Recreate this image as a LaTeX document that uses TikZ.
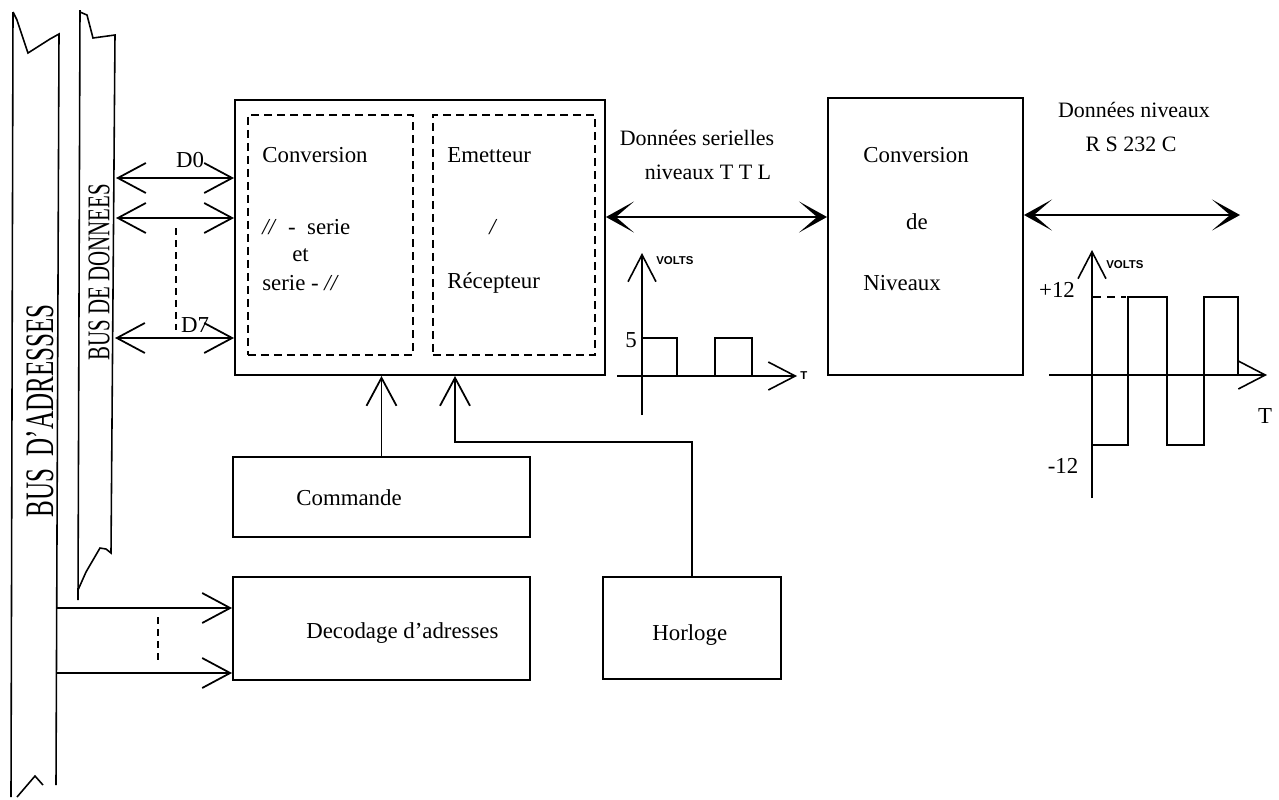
\documentclass[tikz,border=0pt]{standalone}
\usepackage{graphicx}
\usepackage{fontspec}
\setmainfont{Liberation Serif}
\newfontfamily\smallsans{Liberation Sans}
\usetikzlibrary{arrows.meta,fit}

\begin{document}
\begin{tikzpicture}[x=0.02cm, y=-0.02cm,
  box/.style={draw, line width=1.1pt, rectangle, inner sep=0pt},
  subbox/.style={draw, line width=0.8pt, dash pattern=on 0.16cm off 0.1cm, rectangle, inner sep=0pt},
  txt/.style={inner sep=0pt, font=\fontsize{13}{15}\selectfont},
  ltxt/.style={txt, anchor=west},
  tiny/.style={inner sep=0pt, font=\smallsans\bfseries\fontsize{6.5}{7}\selectfont},
  bus/.style={line width=0.9pt},
  wire/.style={line width=1pt},
  barbtip/.tip={Straight Barb[length=0.56cm, width=0.6cm, line width=1pt]},
  barb/.style={wire, -barbtip},
  dbarb/.style={wire, barbtip-barbtip},
  fattip/.tip={Stealth[length=0.56cm, width=0.62cm, inset=0.36cm]},
  fatarrow/.style={line width=1.6pt, fattip-fattip},
  axis/.style={line width=0.9pt, -{Straight Barb[length=0.54cm, width=0.56cm, line width=0.9pt]}},
  sig/.style={line width=1pt},
  dots/.style={line width=1pt, dash pattern=on 0.14cm off 0.1cm}
]
\fill[white] (0,0) rectangle (1279,799);
\useasboundingbox (0,0) rectangle (1279,799);

% ---- address bus ----
\draw[bus] (13,12) -- (11,797);
\draw[bus] (13,12) -- (17,20) -- (28,53) -- (50,39) -- (59,34) -- (56,785);
\draw[bus] (17,797) -- (35,776) -- (43,785);
\node[rotate=90, inner sep=0pt] (busA) at (40,411)
  {\scalebox{0.62}[1]{\fontsize{23}{23}\selectfont BUS~~D'ADRESSES}};

% ---- data bus ----
\draw[bus] (80,10) -- (78,600);
\draw[bus] (80,12) -- (87,15) -- (93,38) -- (115,35) -- (111,553)
  -- (106,549) -- (100,548) -- (86,572) -- (78,590);
\node[rotate=90, inner sep=0pt] (busD) at (99,272)
  {\scalebox{0.66}[1]{\fontsize{18}{18}\selectfont BUS DE DONNEES}};

% ---- blocks ----
\node[box, fit={(235,100) (605,375)}] (uart) {};
\node[subbox, fit={(248,115) (413,355)}] (conv) {};
\node[subbox, fit={(433,115) (595,355)}] (emrec) {};
\node[box, fit={(828,98) (1023,375)}] (niv) {};
\node[box, fit={(233,457) (530,537)}] (cmd) {};
\node[box, fit={(233,577) (530,680)}] (dec) {};
\node[box, fit={(603,577) (781,679)}] (clk) {};

% texts inside the blocks
\node[ltxt] (t1) at (262,155) {Conversion};
\node[ltxt] (t2) at (262,227) {\textit{//}\ \ -\ \ serie};
\node[ltxt] (t3) at (292,255) {et};
\node[ltxt] (t4) at (262,283) {serie\ -\ \textit{//}};
\node[ltxt] (t5) at (447,155) {Emetteur};
\node[ltxt] (t6) at (489,227) {\textit{/}};
\node[ltxt] (t7) at (447,283) {Récepteur};
\node[ltxt] (t8) at (863,155) {Conversion};
\node[txt] (t9) at (917,222) {de};
\node[ltxt] (t10) at (863,283) {Niveaux};
\node[ltxt] (t11) at (296,498) {Commande};
\node[ltxt] (t12) at (306,633) {Decodage d'adresses};
\node[ltxt] (t13) at (652,635) {Horloge};

% ---- data lines D0..D7 ----
\coordinate (d0) at (116,178);
\coordinate (d1) at (116,218);
\coordinate (d7) at (115,338);
\draw[dbarb] (d0) -- (uart.west |- d0);
\draw[dbarb] (d1) -- (uart.west |- d1);
\draw[dbarb] (d7) -- (uart.west |- d7);
\draw[dots] (176,228) -- (176,330);
\node[txt] (lD0) at (190,160) {D0};
\node[txt] (lD7) at (195,325) {D7};

% ---- address lines ----
\coordinate (a0) at (57,608);
\coordinate (a1) at (57,673);
\draw[barb] (a0) -- (dec.west |- a0);
\draw[barb] (a1) -- (dec.west |- a1);
\draw[dots] (158,617) -- (158,663);

% ---- control and clock ----
\draw[barb] (cmd.north) -- (cmd.north |- uart.south);
\coordinate (bend) at (455,442);
\draw[barb] (clk.north) |- (bend) -- (bend |- uart.south);

% ---- serial links ----
\coordinate (ttl) at (605,217);
\draw[fatarrow] (uart.east |- ttl) -- (niv.west |- ttl);
\node[txt, font=\fontsize{12.5}{14}\selectfont] (l1) at (697,138) {Données serielles};
\node[txt, font=\fontsize{12.5}{14}\selectfont] (l2) at (708,172) {niveaux T T L};

\coordinate (rsend) at (1240,215);
\draw[fatarrow] (niv.east |- rsend) -- (rsend);
\node[txt, font=\fontsize{12.5}{14}\selectfont] (l3) at (1134,110) {Données niveaux};
\node[txt, font=\fontsize{12.5}{14}\selectfont] (l4) at (1131,144) {R S 232 C};

% ---- TTL levels ----
\draw[axis] (642,415) -- (642,253);
\draw[axis] (617,376) -- (797,376);
\draw[sig] (642,376) -- (642,338) -- (677,338) -- (677,376);
\draw[sig] (715,376) -- (715,338) -- (752,338) -- (752,376);
\node[txt] (v5) at (631,340) {5};
\node[tiny, anchor=west] (vt1) at (656,261) {VOLTS};
\node[tiny, anchor=west] (tt1) at (800,376) {T};

% ---- RS 232 levels ----
\draw[axis] (1092,498) -- (1092,250);
\draw[axis] (1049,375) -- (1267,375);
\draw[sig] (1092,445) -- (1128,445) -- (1128,297) -- (1167,297) -- (1167,445)
  -- (1204,445) -- (1204,297) -- (1238,297) -- (1238,375);
\draw[line width=1pt, dash pattern=on 0.16cm off 0.12cm] (1093,297) -- (1126,297);
\node[txt] (p12) at (1057,290) {+12};
\node[txt] (m12) at (1063,466) {-12};
\node[tiny, anchor=west] (vt2) at (1106,265) {VOLTS};
\node[txt] (tt2) at (1265,416) {T};
\end{tikzpicture}
\end{document}
